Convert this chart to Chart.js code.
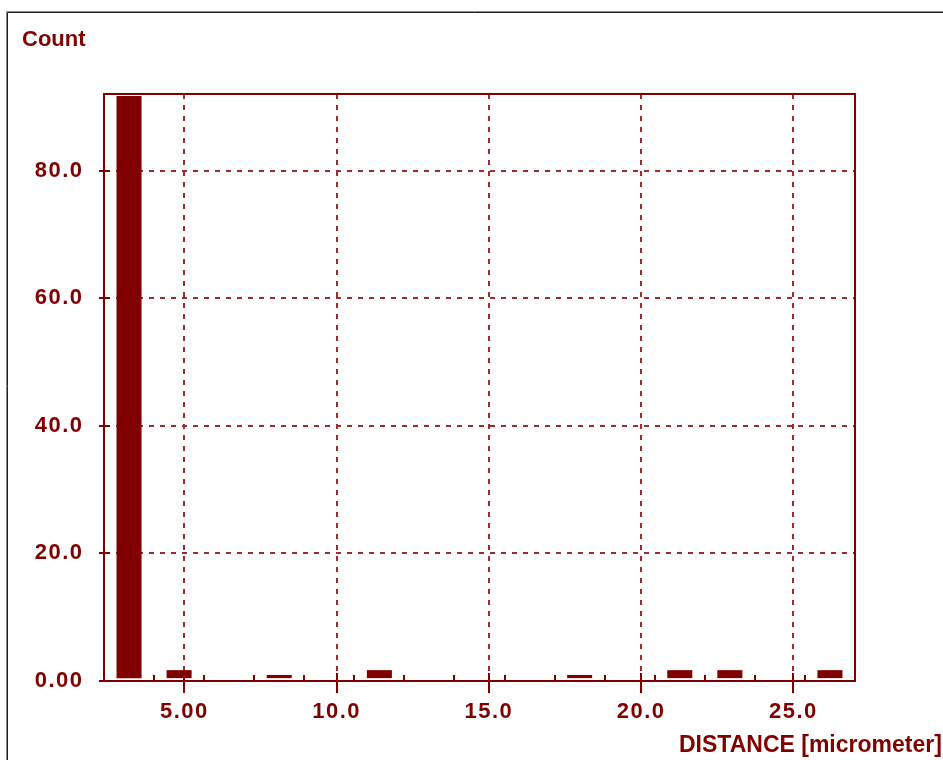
<!DOCTYPE html>
<html>
<head>
<meta charset="utf-8">
<title>Count vs DISTANCE [micrometer]</title>
<script src="https://cdn.jsdelivr.net/npm/chart.js@4.4.1/dist/chart.umd.min.js"></script>
<style>
  html, body { margin: 0; padding: 0; background: #ffffff; }
  #wrap { position: relative; width: 943px; height: 760px; }
  canvas { display: block; }
</style>
</head>
<body>
<div id="wrap"><canvas id="hist" width="943" height="760"></canvas></div>
<script>
// Histogram bins (micrometer): edges, centres and counts per bin
const binEdges   = [2.363, 4.007, 5.651, 7.295, 8.939, 10.583, 12.227, 13.871,
                    15.515, 17.159, 18.803, 20.447, 22.091, 23.735, 25.379, 27.023];
const binCenters = [3.185, 4.829, 6.473, 8.117, 9.761, 11.405, 13.049, 14.693,
                    16.337, 17.981, 19.625, 21.269, 22.913, 24.557, 26.201];
const counts     = [91.7, 1.7, null, 0.95, null, 1.7, null, null,
                    null, 0.95, null, 1.7, 1.7, null, 1.7];

// Axis ticks and their printed labels
const xTickValues = [5, 10, 15, 20, 25];
const xTickLabels = ['5.00', '10.0', '15.0', '20.0', '25.0'];
const yTickValues = [0, 20, 40, 60, 80];
const yTickLabels = ['0.00', '20.0', '40.0', '60.0', '80.0'];

const yTitle = 'Count';
const xTitle = 'DISTANCE [micrometer]';

const MAROON = '#800000';
const GRID = '#9a2e2e';
const FONT = '"Liberation Sans", Arial, sans-serif';

// Window frame, axis captions, plot-box border and the short tick marks
const decorations = {
  id: 'decorations',
  beforeDraw(chart) {
    const ctx = chart.ctx;
    ctx.save();
    ctx.fillStyle = '#ffffff';
    ctx.fillRect(0, 0, chart.width, chart.height);
    ctx.lineWidth = 1;
    ctx.strokeStyle = '#8a8a8a';
    ctx.beginPath();
    ctx.moveTo(6.5, chart.height); ctx.lineTo(6.5, 11.5); ctx.lineTo(chart.width, 11.5);
    ctx.stroke();
    ctx.strokeStyle = '#202020';
    ctx.beginPath();
    ctx.moveTo(7.5, chart.height); ctx.lineTo(7.5, 12.5); ctx.lineTo(chart.width, 12.5);
    ctx.stroke();
    ctx.restore();
    // slightly wider spacing for the tick numbers
    if ('letterSpacing' in ctx) ctx.letterSpacing = '1.5px';
  },
  afterDraw(chart) {
    const ctx = chart.ctx;
    if ('letterSpacing' in ctx) ctx.letterSpacing = '0px';
    const a = chart.chartArea;
    const xs = chart.scales.x, ys = chart.scales.y;
    ctx.save();
    ctx.strokeStyle = MAROON;
    ctx.lineWidth = 2;
    // top and right edges of the plot box
    ctx.beginPath();
    ctx.moveTo(a.left, a.top); ctx.lineTo(a.right, a.top); ctx.lineTo(a.right, a.bottom);
    ctx.stroke();
    // bin boundary ticks, pointing up from the x axis
    ctx.beginPath();
    for (let i = 1; i < binEdges.length - 1; i++) {
      const px = Math.round(xs.getPixelForValue(binEdges[i]));
      ctx.moveTo(px, a.bottom); ctx.lineTo(px, a.bottom - 6);
    }
    // major ticks continue a little way into the plot
    xTickValues.forEach(v => {
      const px = Math.round(xs.getPixelForValue(v));
      ctx.moveTo(px, a.bottom); ctx.lineTo(px, a.bottom - 8);
    });
    yTickValues.forEach(v => {
      const py = Math.round(ys.getPixelForValue(v));
      ctx.moveTo(a.left, py); ctx.lineTo(a.left + 6, py);
    });
    ctx.stroke();
    // axis captions
    ctx.fillStyle = MAROON;
    ctx.textBaseline = 'alphabetic';
    ctx.textAlign = 'left';
    ctx.font = 'bold 22px ' + FONT;
    ctx.fillText(yTitle, 22, 46);
    ctx.font = 'bold 23px ' + FONT;
    ctx.fillText(xTitle, 679, 752);
    ctx.restore();
  }
};

const tickFont = { family: FONT, size: 22, weight: 'bold', lineHeight: 1.2 };

new Chart(document.getElementById('hist'), {
  type: 'bar',
  data: {
    datasets: [{
      label: yTitle,
      data: binCenters.map((c, i) => ({ x: c, y: counts[i] })),
      backgroundColor: MAROON,
      borderWidth: 0,
      base: 0.45,
      barPercentage: 0.5,
      categoryPercentage: 1.0
    }]
  },
  options: {
    responsive: false,
    animation: false,
    layout: { padding: { top: 94, right: 88, bottom: 0, left: 0 } },
    plugins: { legend: { display: false }, title: { display: false }, tooltip: { enabled: false } },
    scales: {
      x: {
        type: 'linear',
        min: binEdges[0],
        max: binEdges[binEdges.length - 1],
        offset: false,
        afterBuildTicks(scale) { scale.ticks = xTickValues.map(v => ({ value: v })); },
        afterFit(scale) { scale.height = 79; },
        grid: { offset: false, color: GRID, lineWidth: 2, tickLength: 12, tickColor: MAROON, tickWidth: 2 },
        border: { color: MAROON, width: 2, dash: [5, 6] },
        ticks: {
          callback: (v, i) => xTickLabels[i],
          color: MAROON, font: tickFont, padding: 6,
          maxRotation: 0, autoSkip: false
        }
      },
      y: {
        type: 'linear',
        min: 0,
        max: 92,
        afterBuildTicks(scale) { scale.ticks = yTickValues.map(v => ({ value: v })); },
        afterFit(scale) { scale.width = 104; },
        grid: { color: GRID, lineWidth: 2, tickLength: 5, tickColor: MAROON, tickWidth: 2 },
        border: { color: MAROON, width: 2, dash: [5, 6] },
        ticks: {
          callback: (v, i) => yTickLabels[i],
          color: MAROON, font: tickFont, padding: 15.5, autoSkip: false
        }
      }
    }
  },
  plugins: [decorations]
});
</script>
</body>
</html>
